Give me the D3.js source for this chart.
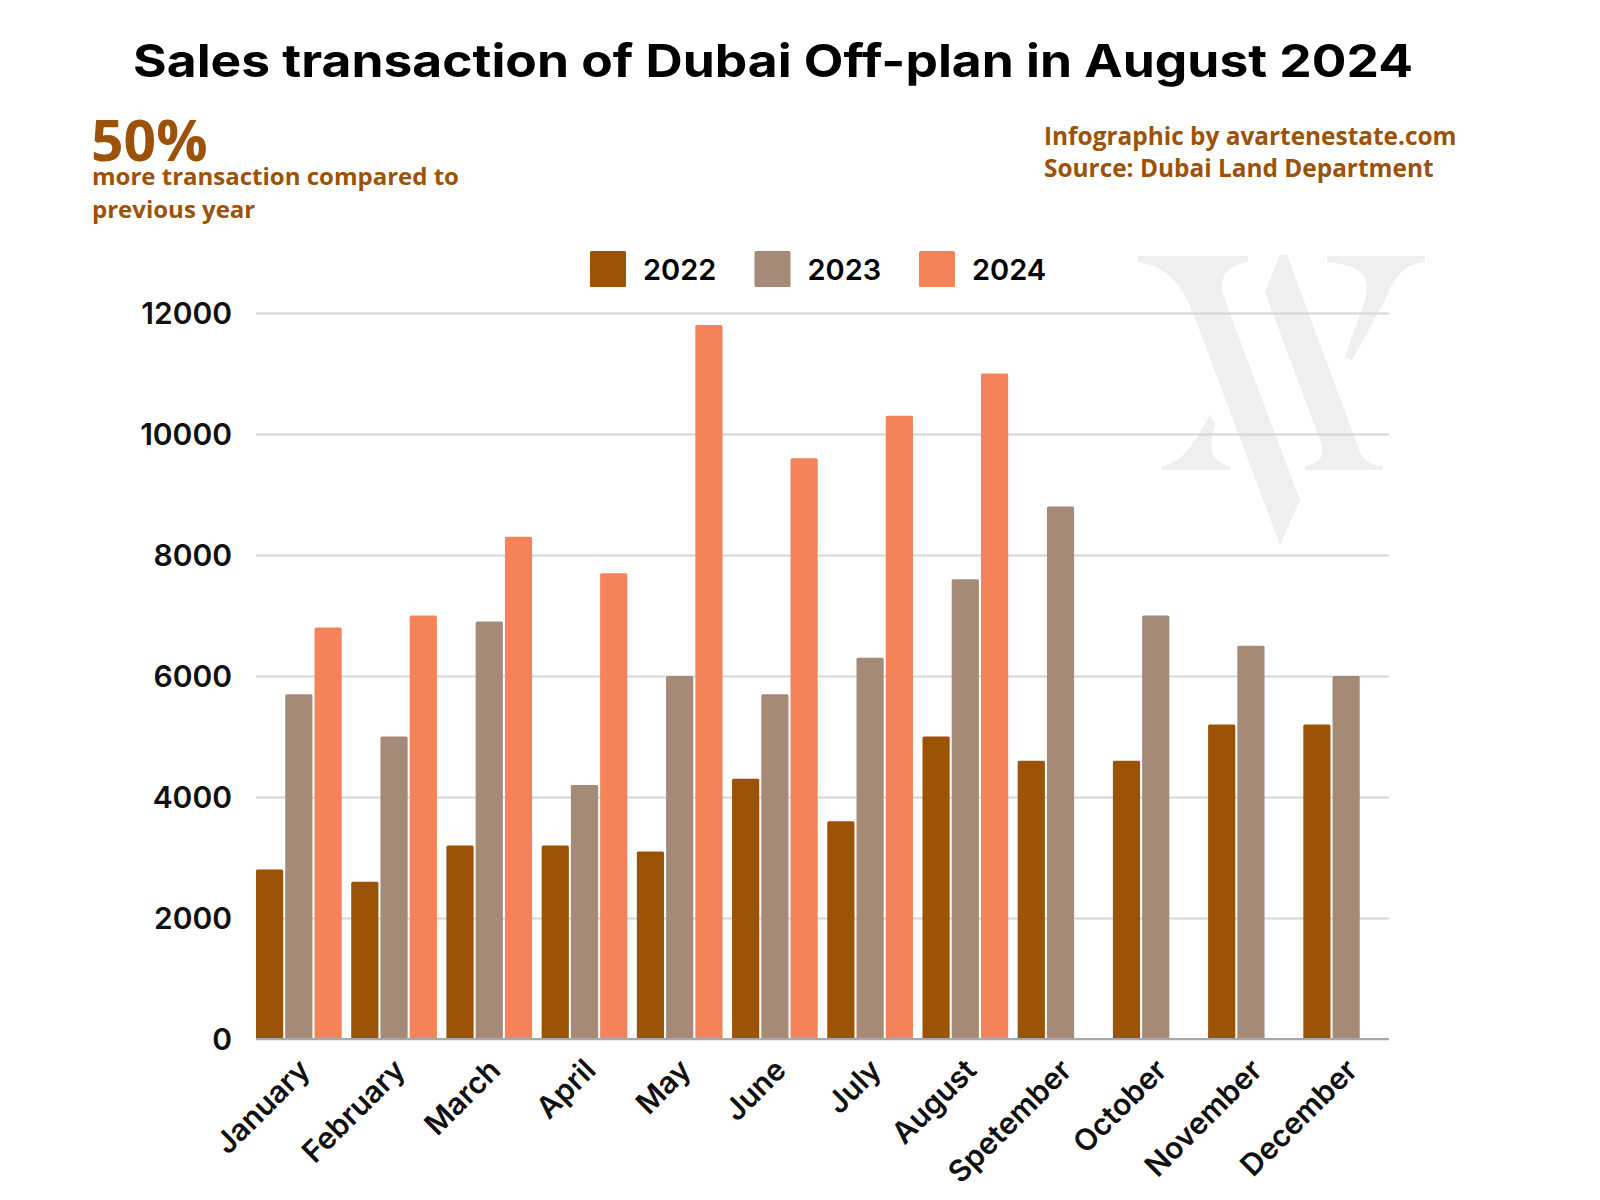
<!DOCTYPE html>
<html>
  <head>
    <meta charset="utf-8">
    <title>Sales transaction of Dubai Off-plan</title>
    <script src="https://d3js.org/d3.v7.min.js"></script>
    <style>
      body { margin: 0; background: #fff; }
      svg { display: block; }
      .brown { fill: #9c5208; font-family: "Open Sans", sans-serif; font-weight: 700; }
      .axis text { font-family: Inter, sans-serif; font-weight: 600; fill: #111; }
    </style>
  </head>
  <body>
    <svg width="1600" height="1200"></svg>

    <script>
      // data
      const months = ["January", "February", "March", "April", "May", "June", "July",
                      "August", "Spetember", "October", "November", "December"];
      const years = ["2022", "2023", "2024"];
      const sales2022 = [2800, 2600, 3200, 3200, 3100, 4300, 3600, 5000, 4600, 4600, 5200, 5200];
      const sales2023 = [5700, 5000, 6900, 4200, 6000, 5700, 6300, 7600, 8800, 7000, 6500, 6000];
      const sales2024 = [6800, 7000, 8300, 7700, 11800, 9600, 10300, 11000, null, null, null, null];
      const yTicks = [0, 2000, 4000, 6000, 8000, 10000, 12000];

      const colors = { "2022": "#9c5306", "2023": "#a68a78", "2024": "#f5835a" };
      const series = { "2022": sales2022, "2023": sales2023, "2024": sales2024 };

      const svg = d3.select("svg");
      const plotL = 256, plotR = 1389, plotT = 313, plotB = 1039;

      // watermark logo (light grey)
      const wm = svg.append("g").attr("fill", "#efefef");
      wm.append("path").attr("d", "M1138,256 L1248,256 L1248,262 C1225,266 1218,280 1224,298 L1300,500 L1280,545 L1195,318 C1182,282 1165,266 1138,262 Z");
      wm.append("path").attr("d", "M1280,255 L1287,255 L1360,452 C1366,463 1372,465 1383,466 L1383,470 L1305,470 L1305,466 C1322,463 1325,455 1320,440 L1265,292 Z");
      wm.append("path").attr("d", "M1327,256 L1425,256 L1425,262 C1405,264 1395,275 1385,300 L1352,360 L1345,357 L1365,300 C1372,275 1360,265 1327,262 Z");
      wm.append("path").attr("d", "M1210,414 L1215,425 C1208,448 1210,462 1230,466 L1230,470 L1162,470 L1162,466 C1182,462 1192,448 1210,414 Z");

      // title
      svg.append("text")
        .attr("x", 133).attr("y", 77)
        .attr("textLength", 1280)
        .attr("lengthAdjust", "spacingAndGlyphs")
        .style("font-family", "Inter, sans-serif")
        .style("font-weight", 700)
        .style("font-size", "45px")
        .style("fill", "#000")
        .text("Sales transaction of Dubai Off-plan in August 2024");

      // left annotation
      svg.append("text").attr("class", "brown").attr("x", 91).attr("y", 161)
        .style("font-size", "57px").text("50%");
      svg.append("text").attr("class", "brown").attr("x", 92).attr("y", 185)
        .style("font-size", "24px").text("more transaction compared to");
      svg.append("text").attr("class", "brown").attr("x", 92).attr("y", 218)
        .style("font-size", "24px").text("previous year");

      // right annotation
      svg.append("text").attr("class", "brown").attr("x", 1044).attr("y", 145)
        .style("font-size", "24.4px").text("Infographic by avartenestate.com");
      svg.append("text").attr("class", "brown").attr("x", 1044).attr("y", 177)
        .style("font-size", "24.4px").text("Source: Dubai Land Department");

      // scales
      const x0 = d3.scaleBand().domain(months).range([plotL, plotR]).paddingInner(0.1).paddingOuter(0);
      const x1 = d3.scaleBand().domain(years).range([0, x0.bandwidth()]).paddingInner(0.07);
      const y = d3.scaleLinear().domain([0, 12000]).range([plotB, plotT]);

      // y axis + gridlines
      const yAxis = svg.append("g")
        .attr("class", "axis")
        .attr("transform", `translate(${plotL},0)`)
        .call(d3.axisLeft(y).tickValues(yTicks).tickSize(-(plotR - plotL)).tickPadding(24).tickFormat(d3.format("d")));
      yAxis.select(".domain").remove();
      yAxis.selectAll(".tick line").attr("stroke", "#d6d6d6").attr("stroke-width", 2);
      yAxis.selectAll(".tick text").style("font-size", "30px").attr("dy", "0.36em");

      // bars
      const groups = svg.append("g")
        .selectAll("g")
        .data(months)
        .join("g")
          .attr("transform", d => `translate(${x0(d)},0)`);

      groups.selectAll("rect")
        .data((m, i) => years.map(yr => ({ year: yr, value: series[yr][i] })).filter(d => d.value != null))
        .join("rect")
          .attr("x", d => x1(d.year))
          .attr("y", d => y(d.value))
          .attr("width", x1.bandwidth())
          .attr("height", d => y(0) - y(d.value))
          .attr("rx", 1.5)
          .attr("fill", d => colors[d.year]);

      // baseline
      svg.append("line")
        .attr("x1", plotL).attr("x2", plotR)
        .attr("y1", y(0)).attr("y2", y(0))
        .attr("stroke", "#a8a8a8").attr("stroke-width", 2);

      // x axis labels
      const xAxis = svg.append("g")
        .attr("class", "axis")
        .attr("transform", `translate(0,${plotB})`)
        .call(d3.axisBottom(x0).tickSize(0).tickPadding(0));
      xAxis.select(".domain").remove();
      xAxis.selectAll(".tick text")
        .style("font-size", "30px")
        .attr("text-anchor", "end")
        .attr("dy", 0)
        .attr("transform", "translate(13,33) rotate(-45)");

      // legend
      const legend = svg.append("g")
        .selectAll("g")
        .data(years)
        .join("g")
          .attr("transform", (d, i) => `translate(${590 + i * 164.5},251)`);
      legend.append("rect")
        .attr("width", 36).attr("height", 36).attr("rx", 1.5)
        .attr("fill", d => colors[d]);
      legend.append("text")
        .attr("x", 53).attr("y", 29)
        .style("font-family", "Inter, sans-serif")
        .style("font-weight", 600)
        .style("font-size", "29px")
        .style("fill", "#000")
        .text(d => d);
    </script>
  </body>
</html>
